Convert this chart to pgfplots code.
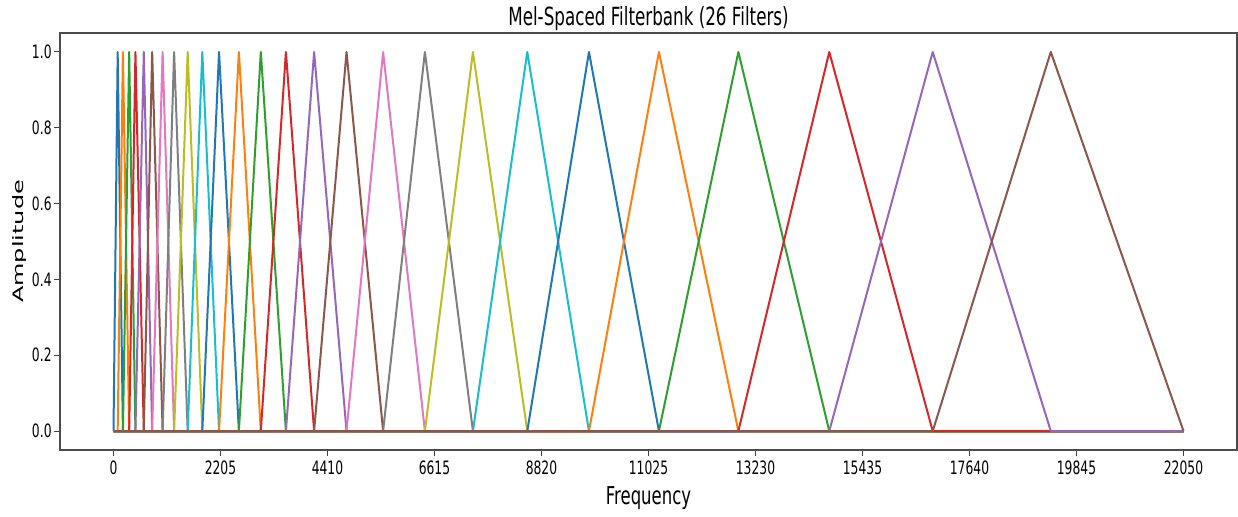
\documentclass[border=0pt]{standalone}
\usepackage{pgfplots}
\pgfplotsset{compat=1.18}
\usepackage{fontspec}
\usepackage{graphicx}
\setmainfont[FakeStretch=0.67]{DejaVu Sans}
\newfontfamily\plainfont{DejaVu Sans}
\definecolor{c0}{HTML}{1F77B4}
\definecolor{c1}{HTML}{FF7F0E}
\definecolor{c2}{HTML}{2CA02C}
\definecolor{c3}{HTML}{D62728}
\definecolor{c4}{HTML}{9467BD}
\definecolor{c5}{HTML}{8C564B}
\definecolor{c6}{HTML}{E377C2}
\definecolor{c7}{HTML}{7F7F7F}
\definecolor{c8}{HTML}{BCBD22}
\definecolor{c9}{HTML}{17BECF}
\begin{document}
\begin{tikzpicture}
\path[use as bounding box] (0,0) rectangle (619pt,258pt);
\begin{axis}[
  at={(30pt,33pt)}, anchor=south west,
  scale only axis, width=588.5pt, height=208.5pt,
  xmin=-1102.5, xmax=23152.5, ymin=-0.05, ymax=1.05,
  scaled x ticks=false, scaled y ticks=false,
  xtick={0,2205,4410,6615,8820,11025,13230,15435,17640,19845,22050},
  xticklabels={0,2205,4410,6615,8820,11025,13230,15435,17640,19845,22050},
  ytick={0,0.2,0.4,0.6,0.8,1.0},
  yticklabels={0.0,0.2,0.4,0.6,0.8,1.0},
  tick align=outside, major tick length=3pt,
  xtick pos=lower, ytick pos=left,
  tick style={black!75, line width=0.5pt},
  axis line style={black!70, line width=0.7pt},
  every tick label/.style={font=\fontsize{9.2}{10}\selectfont},
  xticklabel style={anchor=base, inner sep=0pt, yshift=-9pt},
  yticklabel style={anchor=east, inner sep=0pt, xshift=-1pt},
  title={Mel-Spaced Filterbank (26 Filters)},
  title style={font=\fontsize{12.5}{14}\selectfont, at={(axis description cs:0.5,1)}, anchor=base, inner sep=0pt, yshift=-2pt},
  xlabel={Frequency},
  xlabel style={font=\fontsize{12.3}{14}\selectfont, at={(axis description cs:0.5,0)}, anchor=base, inner sep=0pt, yshift=-27pt},
  ylabel={\scalebox{1}[0.6]{Amplitude}},
  ylabel style={font=\plainfont\fontsize{12}{14}\selectfont, at={([xshift=-20pt]axis description cs:0,0.5)}, anchor=center, inner sep=0pt},
  every axis plot/.append style={line width=1pt, line join=round},
]
\addplot[c0] coordinates {(0,0)(0,0)(86,1)(194,0)(22050,0)};
\addplot[c1] coordinates {(0,0)(86,0)(194,1)(323,0)(22050,0)};
\addplot[c2] coordinates {(0,0)(194,0)(323,1)(452,0)(22050,0)};
\addplot[c3] coordinates {(0,0)(323,0)(452,1)(624,0)(22050,0)};
\addplot[c4] coordinates {(0,0)(452,0)(624,1)(797,0)(22050,0)};
\addplot[c5] coordinates {(0,0)(624,0)(797,1)(1012,0)(22050,0)};
\addplot[c6] coordinates {(0,0)(797,0)(1012,1)(1249,0)(22050,0)};
\addplot[c7] coordinates {(0,0)(1012,0)(1249,1)(1529,0)(22050,0)};
\addplot[c8] coordinates {(0,0)(1249,0)(1529,1)(1830,0)(22050,0)};
\addplot[c9] coordinates {(0,0)(1529,0)(1830,1)(2175,0)(22050,0)};
\addplot[c0] coordinates {(0,0)(1830,0)(2175,1)(2584,0)(22050,0)};
\addplot[c1] coordinates {(0,0)(2175,0)(2584,1)(3036,0)(22050,0)};
\addplot[c2] coordinates {(0,0)(2584,0)(3036,1)(3553,0)(22050,0)};
\addplot[c3] coordinates {(0,0)(3036,0)(3553,1)(4134,0)(22050,0)};
\addplot[c4] coordinates {(0,0)(3553,0)(4134,1)(4802,0)(22050,0)};
\addplot[c5] coordinates {(0,0)(4134,0)(4802,1)(5556,0)(22050,0)};
\addplot[c6] coordinates {(0,0)(4802,0)(5556,1)(6417,0)(22050,0)};
\addplot[c7] coordinates {(0,0)(5556,0)(6417,1)(7407,0)(22050,0)};
\addplot[c8] coordinates {(0,0)(6417,0)(7407,1)(8527,0)(22050,0)};
\addplot[c9] coordinates {(0,0)(7407,0)(8527,1)(9798,0)(22050,0)};
\addplot[c0] coordinates {(0,0)(8527,0)(9798,1)(11240,0)(22050,0)};
\addplot[c1] coordinates {(0,0)(9798,0)(11240,1)(12877,0)(22050,0)};
\addplot[c2] coordinates {(0,0)(11240,0)(12877,1)(14750,0)(22050,0)};
\addplot[c3] coordinates {(0,0)(12877,0)(14750,1)(16882,0)(22050,0)};
\addplot[c4] coordinates {(0,0)(14750,0)(16882,1)(19315,0)(22050,0)};
\addplot[c5] coordinates {(0,0)(16882,0)(19315,1)(22050,0)(22050,0)};
\end{axis}
\end{tikzpicture}
\end{document}
